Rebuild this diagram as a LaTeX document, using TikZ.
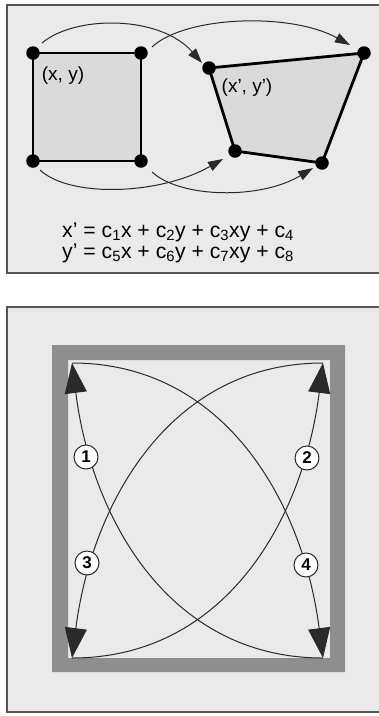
\documentclass[tikz,border=0pt]{standalone}
\usepackage{fontspec}
\setmainfont{Liberation Sans}
\usetikzlibrary{arrows.meta}
\definecolor{panelbg}{HTML}{EAEAEA}
\definecolor{shapefill}{HTML}{DADADA}
\definecolor{framecol}{HTML}{555555}
\definecolor{barcol}{HTML}{8E8E8E}
\definecolor{inkcol}{HTML}{2A2A2A}
\begin{document}
\begin{tikzpicture}[x=1pt,y=-1pt,
  panel/.style={draw=framecol,line width=1.3pt,fill=panelbg},
  dot/.style={circle,fill=black,inner sep=0pt,minimum size=13.5pt},
  edge/.style={line width=2.8pt,line join=round},
  smallarc/.style={draw=inkcol,line width=1pt,-{Triangle[length=15pt,width=10pt]}},
  bigarc/.style={draw=inkcol,line width=1pt,-{Triangle[length=30pt,width=22pt]}},
  numcirc/.style={circle,draw=inkcol,line width=1pt,fill=white,minimum size=24pt,inner sep=0pt,font=\bfseries\fontsize{17}{17}\selectfont},
  lbl/.style={font=\fontsize{19}{19}\selectfont,inner sep=0pt},
  eq/.style={font=\fontsize{21.2}{21}\selectfont,align=left,inner sep=0pt}]
\useasboundingbox (0,0) rectangle (379,716);
\clip (0,0) rectangle (379,716);
\fill[white] (0,0) rectangle (379,716);
% ---------- top panel ----------
\draw[panel] (7,5) rectangle (390,273);
\fill[shapefill] (33,53) rectangle (141,161);
\fill[shapefill] (209,68) -- (364,53) -- (322,163) -- (235,151) -- cycle;
\node[dot] (s1) at (33,53) {};
\node[dot] (s2) at (141,53) {};
\node[dot] (s3) at (33,161) {};
\node[dot] (s4) at (141,161) {};
\node[dot] (q1) at (209,68) {};
\node[dot] (q2) at (364,53) {};
\node[dot] (q3) at (235,151) {};
\node[dot] (q4) at (322,163) {};
\draw[edge] (s1.center) -- (s2.center) -- (s4.center) -- (s3.center) -- cycle;
\draw[edge] (q1.center) -- (q2.center) -- (q4.center) -- (q3.center) -- cycle;
\node[lbl] (lxy) at (63,76) {(x, y)};
\node[lbl] (lxyp) at (247,88) {(x’, y’)};
\draw[smallarc] ([shift={(9,-10)}]s1.center) .. controls (75,15) and (160,15) .. ([shift={(-7,-5)}]q1.center);
\draw[smallarc] ([shift={(11,-6)}]s2.center) .. controls (185,16) and (290,12) .. ([shift={(-14,-8)}]q2.center);
\draw[smallarc] ([shift={(7,9)}]s3.center) .. controls (70,198) and (160,195) .. ([shift={(-12,8)}]q3.center);
\draw[smallarc] ([shift={(11,11)}]s4.center) .. controls (180,198) and (260,200) .. ([shift={(-9,5)}]q4.center);
\node[eq,anchor=base west] (eqs) at (62,258) {x’ = c\textsubscript{1}x + c\textsubscript{2}y + c\textsubscript{3}xy + c\textsubscript{4}\\
y’ = c\textsubscript{5}x + c\textsubscript{6}y + c\textsubscript{7}xy + c\textsubscript{8}};
% ---------- bottom panel ----------
\draw[panel] (7,307) rectangle (390,712);
\fill[barcol,even odd rule] (52,345) rectangle (345,672) (68,360) rectangle (330,658);
\coordinate (tl) at (72,363);
\coordinate (tr) at (323,363);
\coordinate (bl) at (72,658);
\coordinate (br) at (323,658);
\draw[bigarc] (br) .. controls (170,658) and (92,520) .. (tl);
\draw[bigarc] (bl) .. controls (225,658) and (303,520) .. (tr);
\draw[bigarc] (tr) .. controls (170,363) and (92,503) .. (bl);
\draw[bigarc] (tl) .. controls (225,363) and (303,503) .. (br);
\node[numcirc] (n1) at (86,457) {1};
\node[numcirc] (n2) at (307,458) {2};
\node[numcirc] (n3) at (87,563) {3};
\node[numcirc] (n4) at (306,565) {4};
\end{tikzpicture}
\end{document}
